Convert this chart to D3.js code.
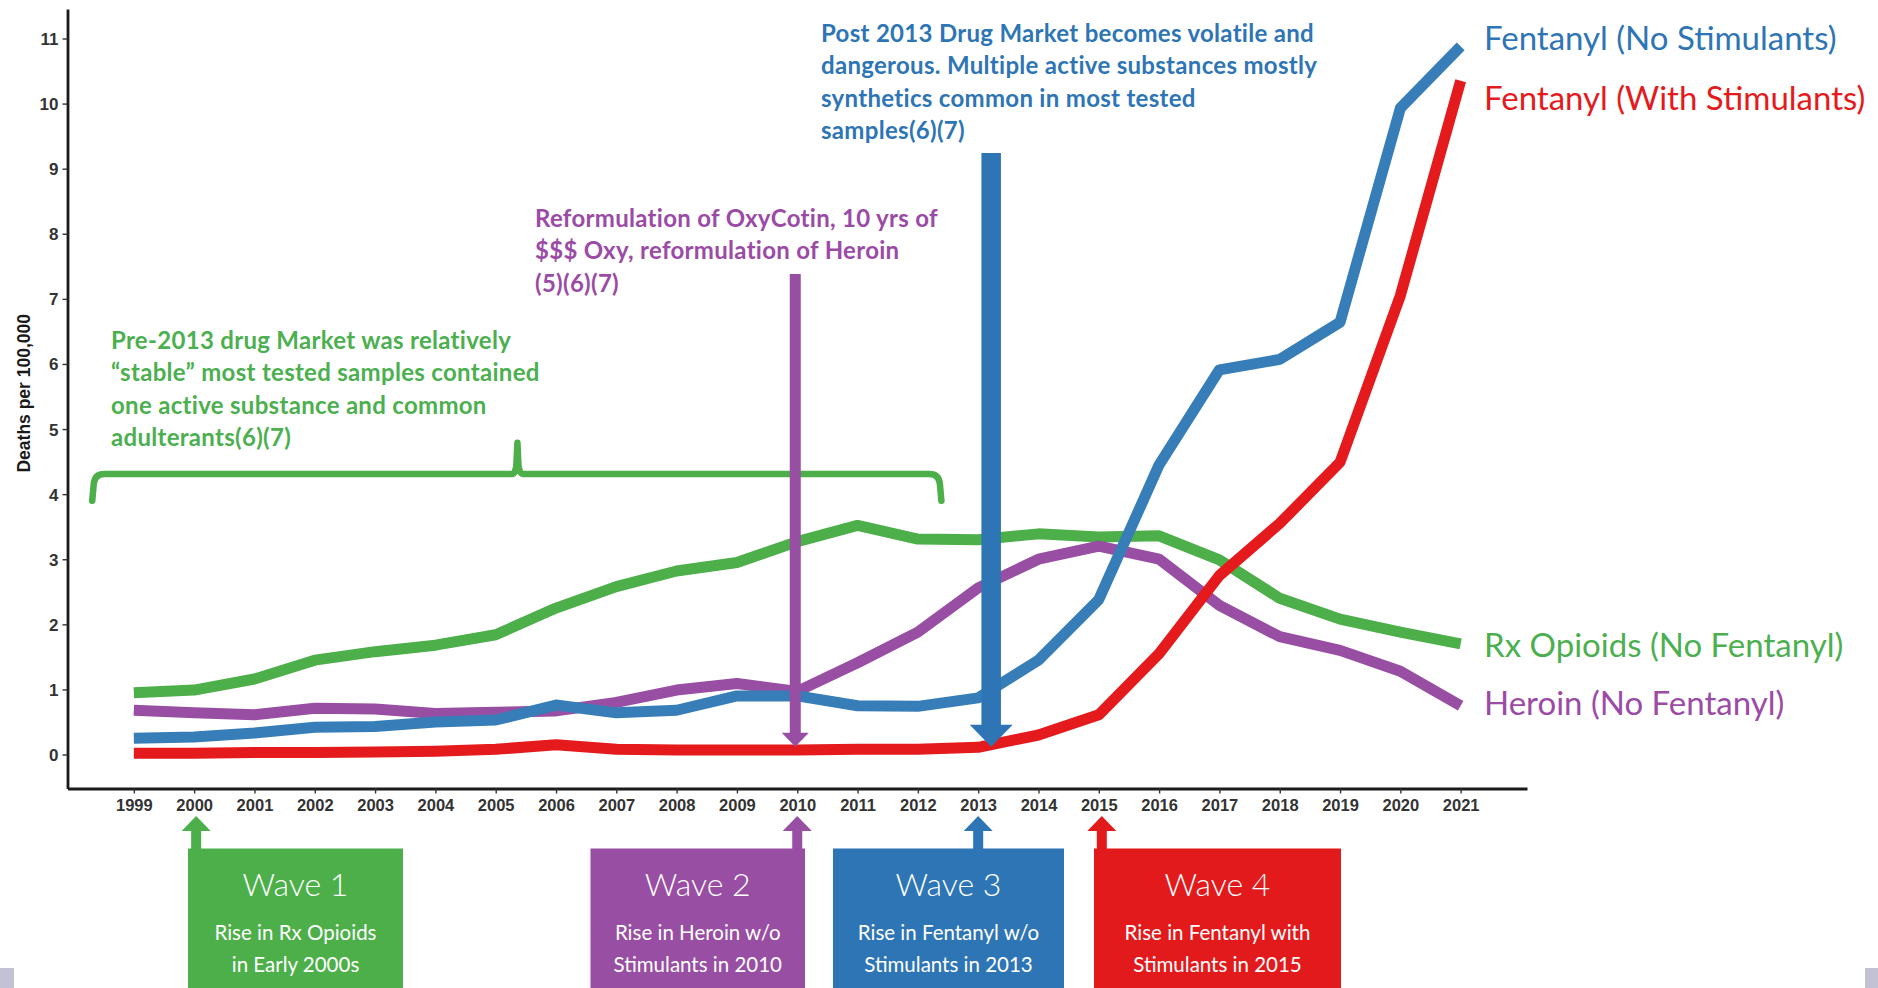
<!DOCTYPE html>
<html>
<head>
<meta charset="utf-8">
<script src="https://cdn.jsdelivr.net/npm/d3@7"></script>
<style>
  html, body { margin: 0; padding: 0; background: #ffffff; }
  svg { display: block; }
</style>
</head>
<body>
<svg id="chart" width="1878" height="988"></svg>
<script>
// ---------------- DATA ----------------
const years = [1999,2000,2001,2002,2003,2004,2005,2006,2007,2008,2009,2010,2011,2012,2013,2014,2015,2016,2017,2018,2019,2020,2021];
const rxOpioids   = [0.95,0.99,1.16,1.45,1.58,1.68,1.84,2.25,2.58,2.82,2.95,3.27,3.52,3.31,3.30,3.39,3.34,3.36,2.99,2.40,2.08,1.88,1.70];
const heroin      = [0.68,0.64,0.61,0.71,0.70,0.63,0.65,0.67,0.80,0.99,1.09,0.97,1.41,1.88,2.56,3.00,3.20,3.00,2.29,1.81,1.60,1.28,0.75];
const fentanylNoStim   = [0.25,0.27,0.33,0.42,0.43,0.50,0.53,0.76,0.64,0.68,0.90,0.90,0.75,0.74,0.87,1.45,2.38,4.45,5.91,6.07,6.64,9.93,10.88];
const fentanylWithStim = [0.02,0.02,0.03,0.03,0.04,0.05,0.08,0.15,0.08,0.07,0.07,0.07,0.08,0.08,0.11,0.30,0.61,1.55,2.75,3.55,4.49,7.05,10.35];
const yTicks = [0,1,2,3,4,5,6,7,8,9,10,11];
const yAxisTitle = "Deaths per 100,000";

const seriesNames  = ["Rx Opioids (No Fentanyl)", "Heroin (No Fentanyl)", "Fentanyl (No Stimulants)", "Fentanyl (With Stimulants)"];
const seriesValues = [rxOpioids, heroin, fentanylNoStim, fentanylWithStim];

const waveTitles = ["Wave 1", "Wave 2", "Wave 3", "Wave 4"];
const waveYears  = [2000, 2010, 2013, 2015];
const waveLine1  = ["Rise in Rx Opioids", "Rise in Heroin w/o", "Rise in Fentanyl w/o", "Rise in Fentanyl with"];
const waveLine2  = ["in Early 2000s", "Stimulants in 2010", "Stimulants in 2013", "Stimulants in 2015"];

const noteGreen  = ["Pre-2013 drug Market was relatively", "\u201Cstable\u201D most tested samples contained", "one active substance and common", "adulterants(6)(7)"];
const notePurple = ["Reformulation of OxyCotin, 10 yrs of", "$$$ Oxy, reformulation of Heroin", "(5)(6)(7)"];
const noteBlue   = ["Post 2013 Drug Market becomes volatile and", "dangerous. Multiple active substances mostly", "synthetics common in most tested", "samples(6)(7)"];
const pointerYears = [2010, 2013];

// ---------------- STYLE / LAYOUT ----------------
const C = { green: "#4DAF4A", purple: "#984EA3", blue: "#377EB8", red: "#E41A1C",
            gText: "#4CAF50", pText: "#9B4BA6", bText: "#2E75B6", rText: "#E41A1C",
            gBox: "#4DAF4A", pBox: "#984EA3", bBox: "#2E75B6", rBox: "#E31A1C" };
const lineColors  = [C.green, C.purple, C.blue, C.red];
const labelColors = [C.gText, C.pText, C.bText, C.rText];
const boxColors   = [C.gBox, C.pBox, C.bBox, C.rBox];

const svg = d3.select("#chart");
const x = d3.scaleLinear().domain([1997.9, 2022.1]).range([67.5, 1527]);
const y = d3.scaleLinear().domain([-0.522, 11.453]).range([788.5, 9]);

// ---------------- AXES ----------------
const axisFont = "'Liberation Sans', Arial, sans-serif";
const xAxis = svg.append("g").attr("transform", `translate(0,${y(-0.522)})`)
  .call(d3.axisBottom(x).tickValues(years).tickFormat(d3.format("d")).tickSize(5).tickSizeOuter(0).tickPadding(6));
const yAxis = svg.append("g").attr("transform", `translate(${x(1997.9)},0)`)
  .call(d3.axisLeft(y).tickValues(yTicks).tickSize(5).tickSizeOuter(0).tickPadding(4));
[xAxis, yAxis].forEach(g => {
  g.select(".domain").attr("stroke", "#1a1a1a").attr("stroke-width", 2.8);
  g.selectAll(".tick line").attr("stroke", "#333").attr("stroke-width", 1.4);
  g.selectAll(".tick text").attr("fill", "#333").attr("font-family", axisFont)
    .attr("font-weight", "bold").attr("font-size", 16.5);
});
yAxis.selectAll(".tick text").attr("font-size", 17).attr("dy", "0.35em");

svg.append("text").text(yAxisTitle)
  .attr("transform", `translate(30,${y(5.55)}) rotate(-90)`)
  .attr("text-anchor", "middle").attr("font-family", axisFont).attr("font-weight", "bold")
  .attr("font-size", 17.5).attr("fill", "#1a1a1a");

// ---------------- GREEN BRACE ----------------
const bY = y(4.31), bL = x(1998.31), bR = x(2012.39), bM = x(2005.36), bDown = y(3.9), bTop = y(4.79);
svg.append("path")
  .attr("d", `M${bL},${bDown} L${bL+1.5},${bY+10} Q${bL+2.5},${bY} ${bL+12},${bY} L${bM-6},${bY} Q${bM-1.5},${bY} ${bM-1},${bY-10} L${bM},${bTop} L${bM+1},${bY-10} Q${bM+1.5},${bY} ${bM+6},${bY} L${bR-12},${bY} Q${bR-2.5},${bY} ${bR-1.5},${bY+10} L${bR},${bDown}`)
  .attr("fill", "none").attr("stroke", C.green).attr("stroke-width", 6.5)
  .attr("stroke-linecap", "round").attr("stroke-linejoin", "round");

// ---------------- SERIES ----------------
const line = d3.line().x((d, i) => x(years[i])).y(d => y(d));
seriesValues.forEach((vals, i) => {
  svg.append("path").datum(vals).attr("d", line)
    .attr("fill", "none").attr("stroke", lineColors[i]).attr("stroke-width", 11)
    .attr("stroke-linejoin", "round");
});

// ---------------- SERIES LABELS ----------------
const labelFont = "Lato, 'Open Sans', sans-serif";
const labelBaselines = [657, 715, 50, 110];
seriesNames.forEach((name, i) => {
  svg.append("text").text(name).attr("x", 1484).attr("y", labelBaselines[i])
    .attr("font-family", labelFont).attr("font-size", 33).attr("fill", labelColors[i]);
});

// ---------------- POINTER ARROWS ----------------
function downArrow(cx, yTop, yTip, shaftW, headW, headH, color) {
  svg.append("rect").attr("x", cx - shaftW/2).attr("y", yTop).attr("width", shaftW)
    .attr("height", yTip - headH - yTop + 1).attr("fill", color);
  svg.append("path").attr("d", `M${cx-headW/2},${yTip-headH} L${cx+headW/2},${yTip-headH} L${cx},${yTip} Z`)
    .attr("fill", color);
}
downArrow(x(pointerYears[0]) - 2, 274, y(0.12), 11, 27, 14, C.purple);
downArrow(x(pointerYears[1]) + 13, 153, y(0.12), 19.5, 43, 22, C.bBox);

// ---------------- ANNOTATION TEXT ----------------
function note(lines, x0, y0, color) {
  const t = svg.append("text").attr("font-family", labelFont).attr("font-weight", "bold")
    .attr("font-size", 24).attr("letter-spacing", 0.3).attr("fill", color);
  lines.forEach((l, i) => t.append("tspan").attr("x", x0).attr("y", y0 + i * 32.3).text(l));
}
note(noteGreen, 111, 349, C.gText);
note(notePurple, 535, 227, C.pText);
note(noteBlue, 821, 42, C.bText);

// ---------------- WAVE BOXES ----------------
const boxLeft  = [188, 590.5, 833, 1094];
const boxRight = [403, 805, 1064, 1341];
const boxTop = 848.5, tipY = 816, headBase = 831, stemW = 10, headW = 29;
waveTitles.forEach((title, i) => {
  const cx = x(waveYears[i]) + (i === 0 ? 2 : (i === 3 ? 3 : 0));
  const g = svg.append("g");
  g.append("rect").attr("x", boxLeft[i]).attr("y", boxTop).attr("width", boxRight[i] - boxLeft[i])
    .attr("height", 988 - boxTop + 2).attr("fill", boxColors[i]);
  g.append("rect").attr("x", cx - stemW/2).attr("y", headBase - 1).attr("width", stemW)
    .attr("height", boxTop - headBase + 2).attr("fill", boxColors[i]);
  g.append("path").attr("d", `M${cx-headW/2},${headBase} L${cx+headW/2},${headBase} L${cx},${tipY} Z`)
    .attr("fill", boxColors[i]);
  const mid = (boxLeft[i] + boxRight[i]) / 2;
  g.append("text").text(title).attr("x", mid).attr("y", 895.5).attr("text-anchor", "middle")
    .attr("font-family", labelFont).attr("font-weight", 300).attr("font-size", 32).attr("fill", "#fff");
  g.append("text").text(waveLine1[i]).attr("x", mid).attr("y", 939.5).attr("text-anchor", "middle")
    .attr("font-family", labelFont).attr("font-size", 20.5).attr("fill", "#fff");
  g.append("text").text(waveLine2[i]).attr("x", mid).attr("y", 971.5).attr("text-anchor", "middle")
    .attr("font-family", labelFont).attr("font-size", 20.5).attr("fill", "#fff");
});

// ---------------- SLIDE EDGE PIECES ----------------
svg.append("rect").attr("x", 0).attr("y", 968).attr("width", 14).attr("height", 20).attr("fill", "#c2c2d4");
svg.append("rect").attr("x", 1865).attr("y", 968).attr("width", 13).attr("height", 20).attr("fill", "#c2c2d4");
</script>
</body>
</html>
